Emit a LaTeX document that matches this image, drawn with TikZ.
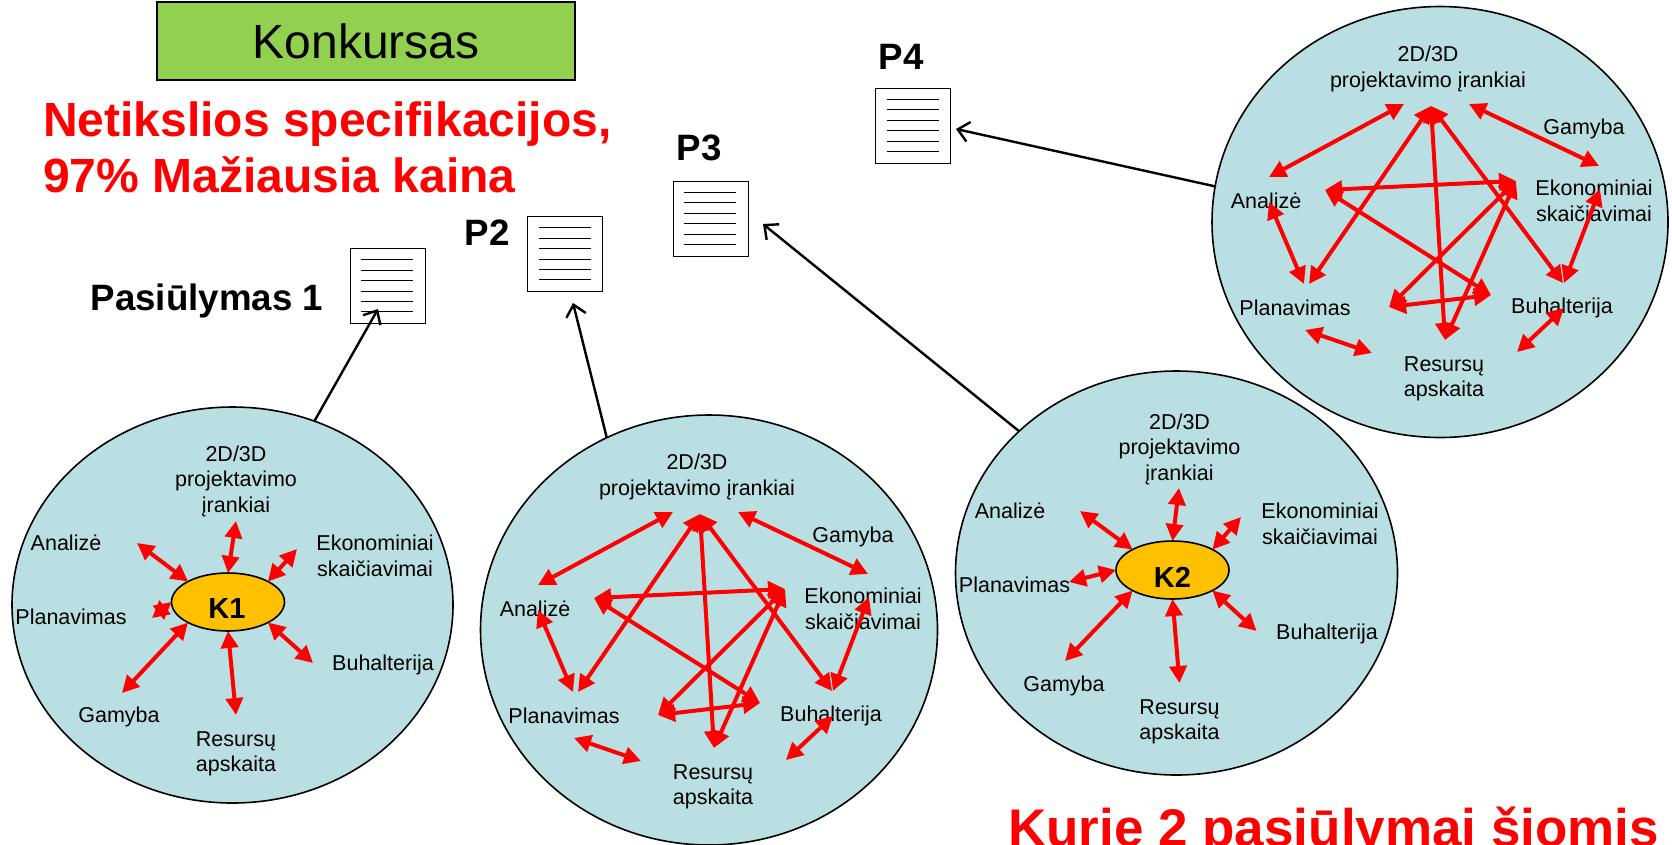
\documentclass[tikz,border=0pt]{standalone}
\usepackage{fontspec}
\setmainfont{Liberation Sans}
\usetikzlibrary{arrows.meta,shapes.geometric}
\definecolor{groupfill}{HTML}{B9DFE3}
\definecolor{titlefill}{HTML}{92D050}
\definecolor{coopfill}{HTML}{FFC000}
\tikzset{
	group/.style={draw,ellipse,line width=1.6pt,fill=groupfill,inner sep=0pt,outer sep=0pt},
	coop/.style={draw,ellipse,line width=1.6pt,fill=coopfill,inner sep=0pt,outer sep=0pt,minimum width=113pt,minimum height=58pt},
	coopname/.style={font=\fontsize{29}{30}\selectfont\bfseries,inner sep=0pt},
	lbl/.style={align=center,font=\fontsize{21.5}{25.5}\selectfont,inner sep=0pt},
	proposal/.style={font=\fontsize{36.7}{38}\selectfont\bfseries,inner sep=0pt},
	headline/.style={align=left,text=red,font=\fontsize{48}{56}\selectfont\bfseries,inner sep=0pt},
	doc/.style={draw,line width=0.9pt,fill=white,inner sep=0pt,outer sep=0pt,minimum width=75pt,minimum height=75pt},
	docline/.style={line width=0.8pt},
	twoway/.style={<->,>={Triangle[length=17pt,width=17pt]},red,line width=4pt},
	sendto/.style={->,>={Straight Barb[length=11pt,width=20pt]},line width=2.4pt},
}
\newcommand{\meshgroup}{
	\node[lbl] (tools) at (697,477) {2D/3D\\projektavimo įrankiai};
	\node[lbl] (gamyba) at (853,537) {Gamyba};
	\node[lbl] (analize) at (535,609) {Analizė};
	\node[lbl] (ekon) at (863,609) {Ekonominiai\\skaičiavimai};
	\node[lbl] (plan) at (564,716) {Planavimas};
	\node[lbl] (buh) at (831,716) {Buhalterija};
	\node[lbl] (res) at (713,787) {Resursų\\apskaita};
	\coordinate (a1) at (673,512);
	\coordinate (a2) at (538,585);
	\coordinate (b1) at (738,512);
	\coordinate (b2) at (868,574);
	\coordinate (c1) at (538,610);
	\coordinate (c2) at (573,692);
	\coordinate (top) at (700,514);
	\coordinate (d) at (578,692);
	\coordinate (e) at (832,691);
	\coordinate (f) at (714,748);
	\coordinate (g) at (785,589);
	\coordinate (h) at (594,598);
	\coordinate (i) at (760,703);
	\coordinate (j) at (658,715);
	\coordinate (l) at (869,597);
	\coordinate (m) at (833,691);
	\coordinate (n1) at (574,738);
	\coordinate (n2) at (641,761);
	\coordinate (o1) at (786,760);
	\coordinate (o2) at (833,716);
	\draw[twoway] (a1) -- (a2);
	\draw[twoway] (b1) -- (b2);
	\draw[twoway] (c1) -- (c2);
	\draw[twoway] (top) -- (d);
	\draw[twoway] (top) -- (e);
	\draw[twoway] (top) -- (f);
	\draw[twoway] (g) -- (h);
	\draw[twoway] (h) -- (i);
	\draw[twoway] (g) -- (j);
	\draw[twoway] (g) -- (f);
	\draw[twoway] (j) -- (i);
	\draw[twoway] (l) -- (m);
	\draw[twoway] (n1) -- (n2);
	\draw[twoway] (o1) -- (o2);
}
\begin{document}
\begin{tikzpicture}[x=1pt,y=-1pt]
	\useasboundingbox (0,0) rectangle (1672,844);
	\clip (0,0) rectangle (1672,844);

	\node[draw,line width=1.6pt,fill=titlefill,minimum width=418pt,minimum height=78pt,inner sep=0pt,font=\fontsize{48}{50}\selectfont] (title) at (366,41) {Konkursas};
	\node[headline,anchor=west] (spec) at (43,147) {Netikslios specifikacijos,\\97\% Mažiausia kaina};
	\node[headline,anchor=base west,font=\fontsize{53}{56}\selectfont\bfseries] (question) at (1008,846) {Kurie 2 pasiūlymai šiomis};

	\node[proposal] (p1) at (207,301) {Pasiūlymas 1};
	\node[proposal] (p2) at (487,233) {P2};
	\node[proposal] (p3) at (699,148) {P3};
	\node[proposal] (p4) at (901,57) {P4};
	\node[doc] (doc1) at (387.5,286) {};
	\node[doc] (doc2) at (565,254) {};
	\node[doc] (doc3) at (710.5,218.5) {};
	\node[doc] (doc4) at (913,125.5) {};
	\foreach \d in {doc1,doc2,doc3,doc4}
		\foreach \i in {0,...,5}
			\draw[docline] ([shift={(11,11.3+10.4*\i)}]\d.north west) -- ++(52,0);

	\node[group,minimum width=441pt,minimum height=396pt] (g1) at (232.5,605) {};
	\node[group,minimum width=457pt,minimum height=430pt] (g2) at (709,630) {};
	\node[group,minimum width=456pt,minimum height=431pt] (g4) at (1440,222) {};
	\node[group,minimum width=442pt,minimum height=404pt] (g3) at (1176.5,573) {};

	\coordinate (tip1) at (378,309);
	\coordinate (tip2) at (573,303);
	\coordinate (tip3) at (763,224);
	\coordinate (tip4) at (956,129);
	\draw[sendto] (g1.66) -- (tip1);
	\draw[sendto] (g2.118) -- (tip2);
	\draw[sendto] (g3.138) -- (tip3);
	\draw[sendto] (g4.171) -- (tip4);

	\node[coop] (k1) at (228,602) {};
	\node[coopname] (k1name) at (227,609) {K1};
	\node[lbl] (k1tools) at (236,481) {2D/3D\\projektavimo\\įrankiai};
	\node[lbl] (k1analize) at (66,543) {Analizė};
	\node[lbl] (k1ekon) at (375,556) {Ekonominiai\\skaičiavimai};
	\node[lbl] (k1plan) at (71,617) {Planavimas};
	\node[lbl] (k1buh) at (383,665) {Buhalterija};
	\node[lbl] (k1gamyba) at (119,717) {Gamyba};
	\node[lbl] (k1res) at (236,754) {Resursų\\apskaita};
	\coordinate (k1a) at (236,521);
	\coordinate (k1b) at (137,543);
	\coordinate (k1c) at (297,549);
	\coordinate (k1d) at (152,618);
	\coordinate (k1e) at (122,693);
	\coordinate (k1f) at (236,715);
	\coordinate (k1g) at (313,663);
	\draw[twoway] (k1a) -- (k1.north);
	\draw[twoway] (k1b) -- (k1.north west);
	\draw[twoway] (k1c) -- (k1.north east);
	\draw[twoway] (k1d) -- (k1.west);
	\draw[twoway] (k1e) -- (k1.south west);
	\draw[twoway] (k1f) -- (k1.south);
	\draw[twoway] (k1g) -- (k1.south east);

	\node[coop] (k2) at (1172.5,570) {};
	\node[coopname] (k2name) at (1172.5,577) {K2};
	\node[lbl] (k2tools) at (1179.5,449) {2D/3D\\projektavimo\\įrankiai};
	\node[lbl] (k2analize) at (1010,511) {Analizė};
	\node[lbl] (k2ekon) at (1320,524) {Ekonominiai\\skaičiavimai};
	\node[lbl] (k2plan) at (1014.5,585) {Planavimas};
	\node[lbl] (k2buh) at (1327,634) {Buhalterija};
	\node[lbl] (k2gamyba) at (1064,686) {Gamyba};
	\node[lbl] (k2res) at (1179.5,722) {Resursų\\apskaita};
	\coordinate (k2a) at (1179,488);
	\coordinate (k2b) at (1080,511);
	\coordinate (k2c) at (1241,517);
	\coordinate (k2d) at (1069,582);
	\coordinate (k2e) at (1065,661);
	\coordinate (k2f) at (1179.5,683);
	\coordinate (k2g) at (1256.5,631);
	\draw[twoway] (k2a) -- (k2.north);
	\draw[twoway] (k2b) -- (k2.north west);
	\draw[twoway] (k2c) -- (k2.north east);
	\draw[twoway] (k2d) -- (k2.west);
	\draw[twoway] (k2e) -- (k2.south west);
	\draw[twoway] (k2f) -- (k2.south);
	\draw[twoway] (k2g) -- (k2.south east);

	\begin{scope}[name prefix=m2-]
		\meshgroup
	\end{scope}
	\begin{scope}[name prefix=m4-,shift={(731,-408)}]
		\meshgroup
	\end{scope}
\end{tikzpicture}
\end{document}
